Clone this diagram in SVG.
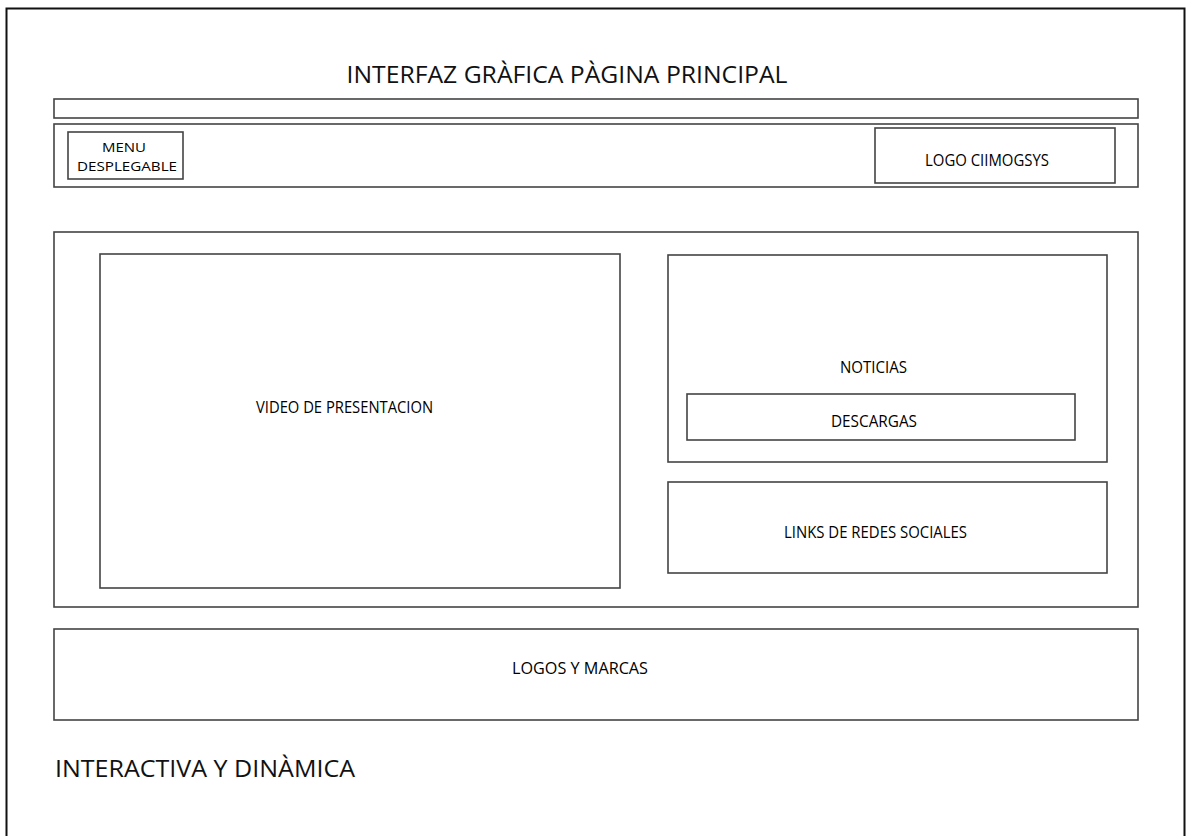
<svg xmlns="http://www.w3.org/2000/svg" width="1187" height="836" viewBox="0 0 1187 836">
<style>
.b{fill:none;stroke:#444;stroke-width:1.6}
.t{font-family:"Open Sans","Liberation Sans",sans-serif;font-size:16px;font-weight:500;fill:#000;text-anchor:middle}
.s{font-size:13.5px}
.h{font-family:"Open Sans","Liberation Sans",sans-serif;font-size:24px;fill:#111}
</style>
<rect x="0" y="0" width="1187" height="836" fill="#fff"/>
<rect x="6.5" y="8.5" width="1178" height="840" fill="none" stroke="#111" stroke-width="2"/>
<text class="h" x="567" y="83" text-anchor="middle" textLength="441" lengthAdjust="spacingAndGlyphs">INTERFAZ GRÀFICA PÀGINA PRINCIPAL</text>
<g id="bar"><rect class="b" x="54" y="99" width="1084" height="19"/></g>
<g id="header"><rect class="b" x="54" y="124" width="1084" height="63"/></g>
<g id="menu"><rect class="b" x="68" y="132" width="115" height="47"/>
<text class="t s" x="124" y="152" textLength="44" lengthAdjust="spacingAndGlyphs">MENU</text><text class="t s" x="127" y="171" textLength="100" lengthAdjust="spacingAndGlyphs">DESPLEGABLE</text></g>
<g id="logo"><rect class="b" x="875" y="128" width="240" height="55"/>
<text class="t" x="987" y="166" textLength="124" lengthAdjust="spacingAndGlyphs">LOGO CIIMOGSYS</text></g>
<g id="main"><rect class="b" x="54" y="232" width="1084" height="375"/></g>
<g id="video"><rect class="b" x="100" y="254" width="520" height="334"/>
<text class="t" x="344.5" y="413" textLength="177" lengthAdjust="spacingAndGlyphs">VIDEO DE PRESENTACION</text></g>
<g id="noticias"><rect class="b" x="668" y="255" width="439" height="207"/>
<text class="t" x="873.5" y="373" textLength="67" lengthAdjust="spacingAndGlyphs">NOTICIAS</text></g>
<g id="descargas"><rect class="b" x="687" y="394" width="388" height="46"/>
<text class="t" x="874" y="427" textLength="86" lengthAdjust="spacingAndGlyphs">DESCARGAS</text></g>
<g id="links"><rect class="b" x="668" y="482" width="439" height="91"/>
<text class="t" x="875.5" y="538" textLength="183" lengthAdjust="spacingAndGlyphs">LINKS DE REDES SOCIALES</text></g>
<g id="logos"><rect class="b" x="54" y="629" width="1084" height="91"/>
<text class="t" x="580" y="674" textLength="136" lengthAdjust="spacingAndGlyphs">LOGOS Y MARCAS</text></g>
<text class="h" x="55" y="777" textLength="300" lengthAdjust="spacingAndGlyphs">INTERACTIVA Y DINÀMICA</text>
<g id="connectors"></g>
</svg>
